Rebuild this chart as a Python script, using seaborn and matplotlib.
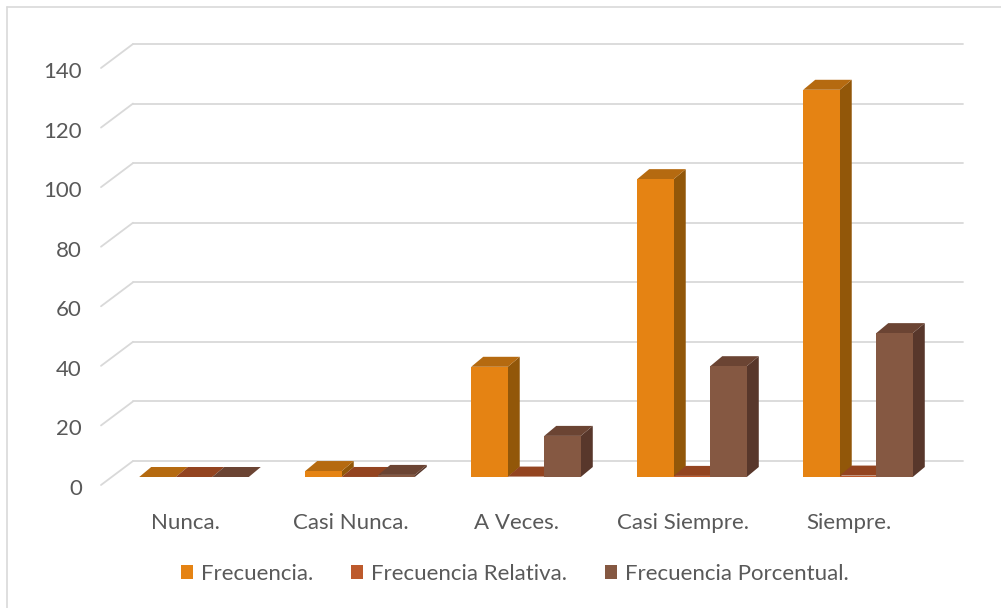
import numpy as np
import pandas as pd
import matplotlib
matplotlib.use("Agg")
import matplotlib.pyplot as plt
from matplotlib.patches import Polygon, Patch
from matplotlib.lines import Line2D
from matplotlib.transforms import ScaledTranslation
import seaborn as sns

# ---- data ----
categories = ["Nunca.", "Casi Nunca.", "A Veces.", "Casi Siempre.", "Siempre."]
series = ["Frecuencia.", "Frecuencia Relativa.", "Frecuencia Porcentual."]
frecuencia = [0, 2, 37, 100, 130]
frecuencia_relativa = [0.0, 0.01, 0.14, 0.37, 0.48]
frecuencia_porcentual = [0.0, 0.7, 13.8, 37.2, 48.3]
y_ticks = [0, 20, 40, 60, 80, 100, 120, 140]

# front / side / top shades of each series
front_colors = ["#E58313", "#BD5A2C", "#855842"]
side_colors = ["#925709", "#8E3F1E", "#58372B"]
top_colors = ["#B56A10", "#934420", "#6B4433"]
text_color = "#595959"
grid_color = "#D9D9D9"
FS = 16

df = pd.DataFrame({
    "categoria": categories * 3,
    "serie": sum([[s] * len(categories) for s in series], []),
    "valor": frecuencia + frecuencia_relativa + frecuencia_porcentual,
})

sns.set_theme(style="white")
plt.rcParams["font.family"] = ["Lato", "DejaVu Sans"]

W, H = 1001, 608
fig = plt.figure(figsize=(W / 100, H / 100), dpi=100)
# axes in pixel terms: bar front plane spans x 111..941, y 477 (0) .. 60 (140)
ax = fig.add_axes([111 / W, (H - 477) / H, 830 / W, 417 / H])

sns.barplot(data=df, x="categoria", y="valor", hue="serie", order=categories,
            hue_order=series, palette=front_colors, width=0.66, gap=0,
            saturation=1, legend=False, ax=ax, errorbar=None)

ax.set_xlim(-0.5, len(categories) - 0.5)
ax.set_ylim(0, 140)
for s in ax.spines.values():
    s.set_visible(False)
ax.set_xlabel("")
ax.set_ylabel("")

# pixel -> data unit conversion
px_x = (len(categories)) / 830.0
px_y = 140 / 417.0

# bar depth (perspective offset)
ddx, ddy = 12 * px_x, 10 * px_y
# back wall offset relative to bar plane, and front plane offset
bwx, bwy = 22 * px_x, 16 * px_y
fwx, fwy = -10 * px_x, -8 * px_y

# back wall gridlines with their left diagonal edge
for v in y_ticks:
    ax.add_line(Line2D([-0.5 + bwx, len(categories) - 0.5 + bwx],
                       [v + bwy, v + bwy], color=grid_color, lw=1.3,
                       zorder=0.5, clip_on=False))
    ax.add_line(Line2D([-0.5 + fwx, -0.5 + bwx], [v + fwy, v + bwy],
                       color=grid_color, lw=1.3, zorder=0.5, clip_on=False))

# 3D sides and tops for each bar
n = len(categories)
for i, patch in enumerate(ax.patches[: n * len(series)]):
    k = i // n
    x0, w, h = patch.get_x(), patch.get_width(), patch.get_height()
    z = 2 + k * 0.3
    patch.set_zorder(z + 0.2)
    patch.set_edgecolor("none")
    side = Polygon([(x0 + w, 0), (x0 + w + ddx, ddy), (x0 + w + ddx, h + ddy), (x0 + w, h)],
                   closed=True, facecolor=side_colors[k], edgecolor="none",
                   zorder=z, clip_on=False)
    top = Polygon([(x0, h), (x0 + ddx, h + ddy), (x0 + w + ddx, h + ddy), (x0 + w, h)],
                  closed=True, facecolor=top_colors[k], edgecolor="none",
                  zorder=z + 0.1, clip_on=False)
    ax.add_patch(side)
    ax.add_patch(top)

# ticks and labels
ax.set_yticks(y_ticks)
ax.set_yticklabels([str(v) for v in y_ticks])
ax.tick_params(axis="y", length=0, pad=21, labelsize=FS, labelcolor=text_color)
ax.tick_params(axis="x", length=0, pad=26, labelsize=FS, labelcolor=text_color)
for lab in ax.get_yticklabels():
    lab.set_transform(lab.get_transform() + ScaledTranslation(0, -10 / 100, fig.dpi_scale_trans))
for lab in ax.get_xticklabels():
    lab.set_transform(lab.get_transform() + ScaledTranslation(-9 / 100, 0, fig.dpi_scale_trans))

# legend
handles = [Patch(facecolor=c, edgecolor="none") for c in front_colors]
fig.legend(handles, series, loc="center", bbox_to_anchor=(515 / W, 1 - 574 / H),
           ncol=3, frameon=False, fontsize=FS, labelcolor=text_color,
           handlelength=0.55, handleheight=0.55, handletextpad=0.35, columnspacing=1.7)

# chart area border
fig.add_artist(Line2D([7 / W, 7 / W], [0, 1 - 7 / H], color="#D9D9D9", lw=1.2))
fig.add_artist(Line2D([7 / W, 1], [1 - 7 / H, 1 - 7 / H], color="#D9D9D9", lw=1.2))

fig.savefig("out.png", dpi=100, facecolor="white")
